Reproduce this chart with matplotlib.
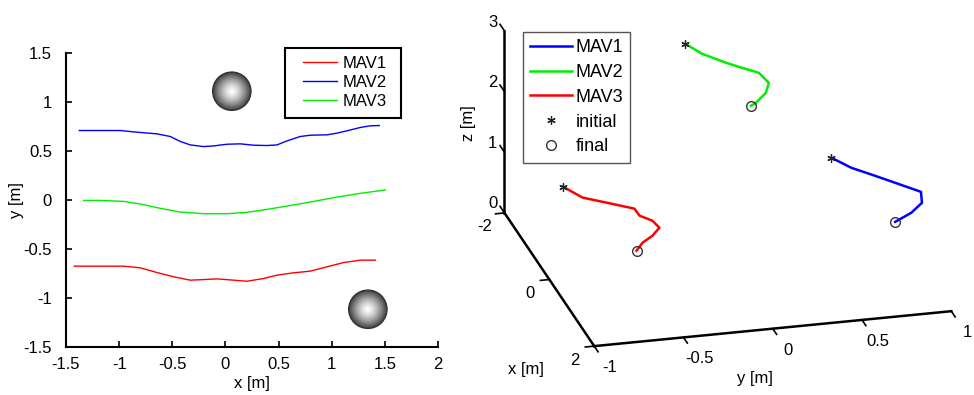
import numpy as np
import matplotlib
matplotlib.use("Agg")
import matplotlib.pyplot as plt
from matplotlib.patches import Rectangle

plt.rcParams["font.family"] = ["Liberation Sans", "DejaVu Sans"]

# ---------------- left panel: planar trajectories ----------------
mav1_x = [-1.422, -0.958, -0.801, -0.644, -0.487, -0.330, -0.205, -0.079, 0.077, 0.203,
          0.360, 0.485, 0.642, 0.798, 0.955, 1.112, 1.269, 1.410]
mav1_y = [-0.675, -0.675, -0.692, -0.740, -0.784, -0.818, -0.812, -0.805, -0.818, -0.829,
          -0.801, -0.767, -0.743, -0.726, -0.682, -0.638, -0.614, -0.614]
mav2_x = [-1.375, -0.989, -0.863, -0.644, -0.519, -0.424, -0.330, -0.205, -0.111, 0.015,
          0.140, 0.265, 0.391, 0.485, 0.579, 0.704, 0.798, 0.955, 1.049, 1.143, 1.269,
          1.363, 1.448]
mav2_y = [0.709, 0.709, 0.695, 0.675, 0.648, 0.597, 0.562, 0.545, 0.552, 0.569,
          0.573, 0.559, 0.556, 0.562, 0.603, 0.648, 0.661, 0.665, 0.682, 0.706, 0.740,
          0.757, 0.760]
mav3_x = [-1.334, -1.177, -0.958, -0.801, -0.613, -0.424, -0.205, 0.015, 0.203, 0.391,
          0.579, 0.798, 1.018, 1.269, 1.504]
mav3_y = [-0.004, -0.004, -0.014, -0.041, -0.085, -0.123, -0.140, -0.140, -0.126, -0.096,
          -0.062, -0.021, 0.024, 0.068, 0.102]
obstacle_x = [0.06, 1.34]
obstacle_y = [1.11, -1.115]

# ---------------- right panel: 3D trajectories ----------------
r_mav1 = dict(x=[-0.432, -0.095, 0.197, 0.486, 0.775, 1.088, 1.340, 1.550],
              y=[0.634, 0.703, 0.800, 0.892, 0.984, 0.950, 0.858, 0.742],
              z=[1.30] * 8)
r_mav2 = dict(x=[-1.553, -1.224, -0.904, -0.719, -0.531, -0.221, 0.053, 0.307, 0.378],
              y=[-0.044, 0.009, 0.103, 0.169, 0.240, 0.257, 0.206, 0.118, 0.081],
              z=[2.76] * 9)
r_mav3 = dict(x=[-1.555, -1.190, -0.983, -0.737, -0.525, -0.348, -0.132, 0.075, 0.245, 0.454],
              y=[-0.729, -0.664, -0.556, -0.431, -0.429, -0.379, -0.367, -0.432, -0.509, -0.569],
              z=[0.60] * 10)

x_ticks3 = [-2, 0, 2]
y_ticks3 = [-1, -0.5, 0, 0.5, 1]
z_ticks3 = [0, 1, 2, 3]

fig = plt.figure(figsize=(9.74, 3.95), dpi=100)

# left axes
ax = fig.add_axes([66 / 974, 1 - 347 / 395, (438 - 66) / 974, (347 - 53) / 395])
ax.plot(mav1_x, mav1_y, color="#ff0000", lw=1.0, label="MAV1")
ax.plot(mav2_x, mav2_y, color="#0000ff", lw=1.0, label="MAV2")
ax.plot(mav3_x, mav3_y, color="#00ee00", lw=1.0, label="MAV3")

# shaded spheres: stacked discs getting lighter towards the centre
n_layers = 40
for i in range(n_layers):
    f = 1 - i / n_layers
    g = 1 - 0.75 * f ** 1.4
    ax.scatter(obstacle_x, obstacle_y, s=760 * f ** 2, color=(g, g, g),
               edgecolors="none", zorder=3 + i * 0.01)
ax.scatter(obstacle_x, obstacle_y, s=760, facecolors="none", edgecolors="#333333",
           linewidths=1.0, zorder=4)

ax.set_xlim(-1.5, 2)
ax.set_ylim(-1.5, 1.5)
ax.set_xticks([-1.5, -1, -0.5, 0, 0.5, 1, 1.5, 2])
ax.set_xticklabels(["-1.5", "-1", "-0.5", "0", "0.5", "1", "1.5", "2"])
ax.set_yticks([-1.5, -1, -0.5, 0, 0.5, 1, 1.5])
ax.set_yticklabels(["-1.5", "-1", "-0.5", "0", "0.5", "1", "1.5"])
ax.tick_params(direction="in", length=4, width=1.2, labelsize=12)
ax.tick_params(axis="x", pad=7)
ax.tick_params(axis="y", pad=10)
for s in ["top", "right"]:
    ax.spines[s].set_visible(False)
for s in ["left", "bottom"]:
    ax.spines[s].set_linewidth(1.5)
ax.set_xlabel("x [m]", fontsize=12, labelpad=3)
ax.set_ylabel("y [m]", fontsize=12, labelpad=0)
leg = fig.legend(*ax.get_legend_handles_labels(), loc="upper left",
                 bbox_to_anchor=(303 / 974, 1 - 55.5 / 395), borderaxespad=0,
                 fontsize=12, handlelength=2.05, handletextpad=0.3, labelspacing=0.25,
                 frameon=False, borderpad=0)
fig.patches.append(Rectangle((285 / 974, 1 - 118 / 395), 116 / 974, 70 / 395,
                             transform=fig.transFigure, fill=False, edgecolor="black",
                             linewidth=1.5))

# right 3D axes
side = 400
cx, cy = 722.5, 176.5
ax3 = fig.add_axes([(cx - side / 2) / 974, 1 - (cy + side / 2) / 395, side / 974, side / 395],
                   projection="3d", proj_type="ortho", computed_zorder=False)
ax3.view_init(elev=22.4, azim=-14.4)
ax3.set_box_aspect((1, 1.0216, 0.5453), zoom=1.34)
ax3.set_xlim(-2, 2)
ax3.set_ylim(-1, 1)
ax3.set_zlim(0, 3)
ax3.set_xticks([])
ax3.set_yticks([])
ax3.set_zticks([])
ax3.set_axis_off()

ax3.plot(r_mav1["x"], r_mav1["y"], r_mav1["z"], color="#0000ff", lw=1.8, label="MAV1")
ax3.plot(r_mav2["x"], r_mav2["y"], r_mav2["z"], color="#00ee00", lw=1.8, label="MAV2")
ax3.plot(r_mav3["x"], r_mav3["y"], r_mav3["z"], color="#ff0000", lw=1.8, label="MAV3")
trajs = [r_mav1, r_mav2, r_mav3]
ax3.plot([t["x"][0] for t in trajs], [t["y"][0] for t in trajs], [t["z"][0] for t in trajs],
         ls="none", marker=(6, 2, 0), ms=6, mec="#222222", mew=0.9, label="initial")
ax3.plot([t["x"][-1] for t in trajs], [t["y"][-1] for t in trajs], [t["z"][-1] for t in trajs],
         ls="none", marker="o", ms=7, mfc="none", mec="#333333", mew=1.0, label="final")

# MATLAB style axis lines
kw = dict(color="black", lw=1.8, clip_on=False)
tk = dict(color="black", lw=1.2, clip_on=False)
ax3.plot([-2, 2], [-1, -1], [0, 0], **kw)
ax3.plot([2, 2], [-1, 1], [0, 0], **kw)
ax3.plot([-2, -2], [-1, -1], [0, 3], **kw)
for xv in x_ticks3:
    ax3.plot([xv, xv], [-1, -1.05], [0, 0], **tk)
    ax3.text(xv, -1.11, -0.2, f"{xv:g}", ha="center", va="center", fontsize=12)
for yv in y_ticks3:
    ax3.plot([2, 2.17], [yv, yv], [0, 0], **tk)
    ax3.text(2.7, yv, 0.03, f"{yv:g}", ha="center", va="center", fontsize=12)
for zv in z_ticks3:
    ax3.plot([-2, -2.2], [-1, -1], [zv, zv], **tk)
    ax3.text(-2, -1.067, zv + 0.167, f"{zv:g}", ha="center", va="center", fontsize=12)
ax3.text(2, -1.38, -0.27, "x [m]", ha="center", va="center", fontsize=12)
ax3.text(2, -0.10, -0.8, "y [m]", ha="center", va="center", fontsize=12)
ax3.text(-2, -1.2, 1.54, "z [m]", zdir="z", ha="center", va="center", fontsize=12)

for ln in ax3.lines:
    ln.set_clip_on(False)

h3, l3_ = ax3.get_legend_handles_labels()
leg3 = fig.legend(h3, l3_, loc="upper left", bbox_to_anchor=(523 / 974, 1 - 32 / 395),
                  borderaxespad=0, fontsize=13, handlelength=2.3, handletextpad=0.2,
                  labelspacing=0.43, fancybox=False, framealpha=1, borderpad=0.4)
leg3.get_frame().set_edgecolor("#555555")
leg3.get_frame().set_linewidth(1.0)

fig.savefig("out.png", dpi=100)
